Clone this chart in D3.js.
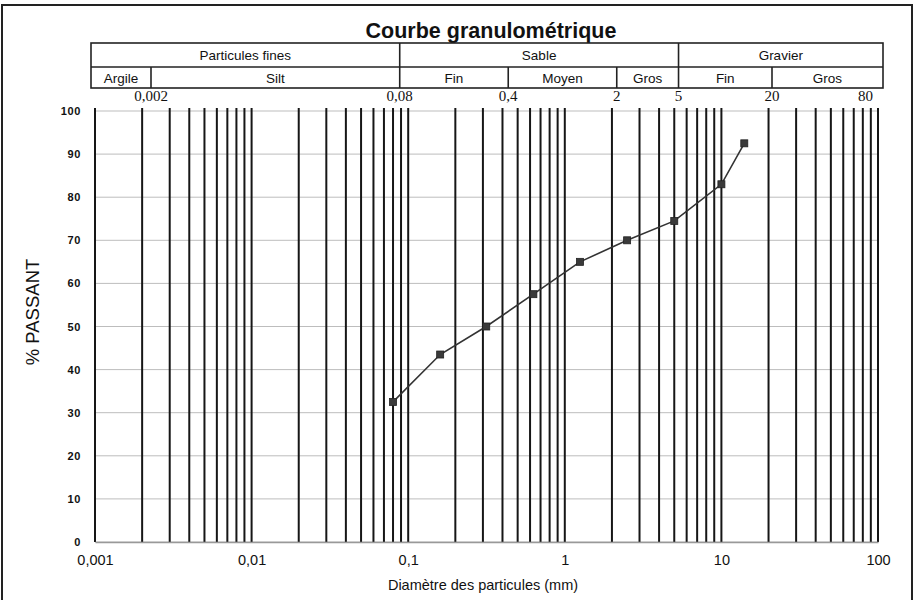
<!DOCTYPE html>
<html>
<head>
<meta charset="utf-8">
<script src="https://cdn.jsdelivr.net/npm/d3@7/dist/d3.min.js"></script>
<style>
  html, body { margin: 0; padding: 0; background: #fff; }
  svg { display: block; }
  text { font-family: "Liberation Sans", Arial, sans-serif; fill: #111; }
</style>
</head>
<body>
<svg id="chart" width="915" height="614"></svg>
<script>
// Sieve analysis: particle diameter (mm) and cumulative percent passing
const sizes   = [0.08, 0.16, 0.315, 0.63, 1.25, 2.5, 5, 10, 14];
const passing = [32.5, 43.5, 50, 57.5, 65, 70, 74.5, 83, 92.5];

// Bottom axis decades and their labels
const xTickValues = [0.001, 0.01, 0.1, 1, 10, 100];
const xTickLabels = ["0,001", "0,01", "0,1", "1", "10", "100"];

// Classification header: main groups, sub-classes and their limits (mm)
const groupNames  = ["Particules fines", "Sable", "Gravier"];
const groupLimits = [0.08, 5];
const classNames  = ["Argile", "Silt", "Fin", "Moyen", "Gros", "Fin", "Gros"];
const classLimits = [0.002, 0.08, 0.4, 2, 5, 20];
const limitValues = [0.002, 0.08, 0.4, 2, 5, 20, 80];
const limitLabels = ["0,002", "0,08", "0,4", "2", "5", "20", "80"];

const svg = d3.select("#chart");

// Frame
svg.append("path")
  .attr("d", "M2,600 V5 H912 V600")
  .attr("fill", "none").attr("stroke", "#222").attr("stroke-width", 2);

const plot = { left: 95, right: 878, top: 111, bottom: 542 };

const x = d3.scaleLog().domain([0.001, 100]).range([plot.left, plot.right]);
const y = d3.scaleLinear().domain([0, 100]).range([plot.bottom, plot.top]);

// Title
svg.append("text")
  .attr("x", 491).attr("y", 38)
  .attr("text-anchor", "middle")
  .style("font-size", "21.5px").style("font-weight", "bold")
  .text("Courbe granulométrique");

// Header table
const table = { left: 91, right: 883, top: 43, mid: 67, bottom: 88 };
const hx = d3.scaleLog().domain([0.002, 20]).range([151, 772]);

const head = svg.append("g");
head.append("rect")
  .attr("x", table.left).attr("y", table.top)
  .attr("width", table.right - table.left).attr("height", table.bottom - table.top)
  .attr("fill", "none").attr("stroke", "#222").attr("stroke-width", 1.6);
head.append("line")
  .attr("x1", table.left).attr("x2", table.right)
  .attr("y1", table.mid).attr("y2", table.mid)
  .attr("stroke", "#222").attr("stroke-width", 1.6);

const groupEdges = [table.left, ...groupLimits.map(hx), table.right];
const classEdges = [table.left, ...classLimits.map(hx), table.right];

head.selectAll("line.g").data(groupLimits).join("line")
  .attr("class", "g")
  .attr("x1", d => hx(d)).attr("x2", d => hx(d))
  .attr("y1", table.top).attr("y2", table.bottom)
  .attr("stroke", "#222").attr("stroke-width", 1.6);
head.selectAll("line.c").data(classLimits.filter(v => !groupLimits.includes(v))).join("line")
  .attr("class", "c")
  .attr("x1", d => hx(d)).attr("x2", d => hx(d))
  .attr("y1", table.mid).attr("y2", table.bottom)
  .attr("stroke", "#222").attr("stroke-width", 1.6);

head.selectAll("text.g").data(groupNames).join("text")
  .attr("class", "g")
  .attr("x", (d, i) => (groupEdges[i] + groupEdges[i + 1]) / 2)
  .attr("y", 60)
  .attr("text-anchor", "middle")
  .style("font-size", "13.5px")
  .text(d => d);
head.selectAll("text.c").data(classNames).join("text")
  .attr("class", "c")
  .attr("x", (d, i) => (classEdges[i] + classEdges[i + 1]) / 2)
  .attr("y", 83)
  .attr("text-anchor", "middle")
  .style("font-size", "13.5px")
  .text(d => d);

head.selectAll("text.l").data(limitValues).join("text")
  .attr("class", "l")
  .attr("x", d => hx(d)).attr("y", 101)
  .attr("text-anchor", "middle")
  .style("font-family", "'Liberation Serif', serif")
  .style("font-size", "15px")
  .text((d, i) => limitLabels[i]);

// Horizontal grid
svg.append("g").selectAll("line").data(y.ticks(10)).join("line")
  .attr("x1", plot.left).attr("x2", plot.right)
  .attr("y1", d => y(d)).attr("y2", d => y(d))
  .attr("stroke", "#bdbdbd").attr("stroke-width", 1);

// Vertical log grid (every multiple of each decade)
svg.append("g").selectAll("line").data(x.ticks()).join("line")
  .attr("x1", d => x(d)).attr("x2", d => x(d))
  .attr("y1", 108).attr("y2", plot.bottom)
  .attr("stroke", "#161616").attr("stroke-width", 2);

// Y axis
const yAxis = svg.append("g")
  .attr("transform", `translate(${plot.left},0)`)
  .call(d3.axisLeft(y).tickValues(y.ticks(10)).tickSize(0).tickPadding(14));
yAxis.select(".domain").remove();
yAxis.selectAll("text")
  .style("font-family", "'Liberation Sans', Arial, sans-serif")
  .style("font-size", "11px").style("font-weight", "bold")
  .style("letter-spacing", "0.6px").attr("fill", "#111");

// X axis
const xAxis = svg.append("g")
  .attr("transform", `translate(0,${plot.bottom})`)
  .call(d3.axisBottom(x).tickValues(xTickValues)
    .tickFormat((d, i) => xTickLabels[i]).tickSize(0).tickPadding(13));
xAxis.select(".domain").attr("stroke", "#999").attr("stroke-width", 1.5);
xAxis.selectAll("text")
  .style("font-family", "'Liberation Sans', Arial, sans-serif")
  .style("font-size", "14.5px").attr("fill", "#111");

// Axis titles
svg.append("text")
  .attr("transform", "translate(39,312) rotate(-90)")
  .attr("text-anchor", "middle")
  .style("font-size", "18.5px")
  .text("% PASSANT");
svg.append("text")
  .attr("x", 483).attr("y", 590)
  .attr("text-anchor", "middle")
  .style("font-size", "14.5px")
  .text("Diamètre des particules (mm)");

// Grading curve
const pts = sizes.map((s, i) => [s, passing[i]]);
svg.append("path")
  .datum(pts)
  .attr("fill", "none").attr("stroke", "#333").attr("stroke-width", 1.6)
  .attr("d", d3.line().x(d => x(d[0])).y(d => y(d[1])));
svg.append("g").selectAll("rect").data(pts).join("rect")
  .attr("x", d => x(d[0]) - 3.5).attr("y", d => y(d[1]) - 3.5)
  .attr("width", 7).attr("height", 7)
  .attr("fill", "#3a3a3a").attr("stroke", "#222").attr("stroke-width", 0.8);
</script>
</body>
</html>
